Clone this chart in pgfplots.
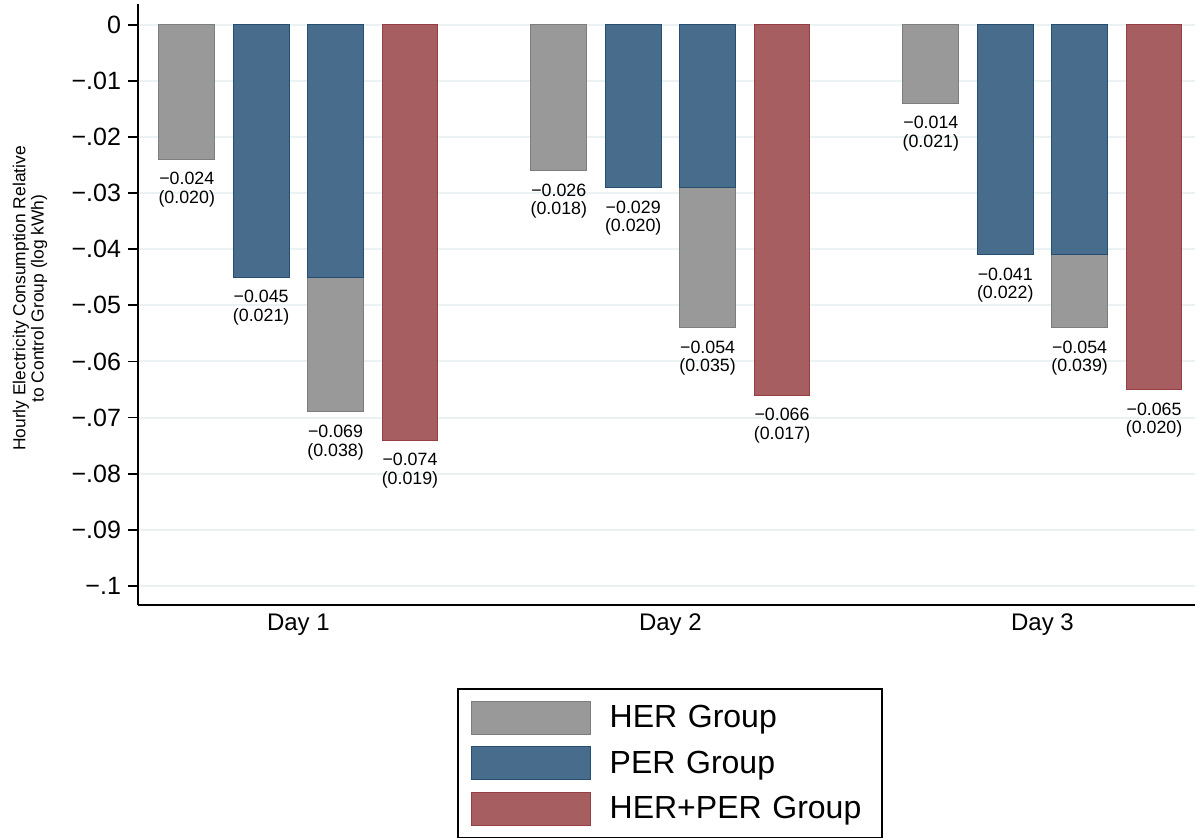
\documentclass[border=0pt]{standalone}
\usepackage{pgfplots}
\pgfplotsset{compat=1.18}
\usepackage{fontspec}
\setmainfont{Liberation Sans}

\definecolor{herfill}{RGB}{153,153,153}
\definecolor{herline}{RGB}{125,125,125}
\definecolor{perfill}{RGB}{72,108,140}
\definecolor{perline}{RGB}{38,78,112}
\definecolor{bothfill}{RGB}{166,94,97}
\definecolor{bothline}{RGB}{150,62,68}
\definecolor{gridc}{RGB}{234,242,243}

\pgfplotsset{
  mybar/.style={
    ybar, bar width=0.15, bar shift=0pt, line width=0.5pt,
    legend image code/.code={\draw[##1, line width=0.5pt] (0pt,-8.25pt) rectangle (59.5pt,8.25pt);}
  },
  lbl/.style={
    nodes near coords, point meta=explicit symbolic,
    nodes near coords align={below},
    every node near coord/.append style={align=center, text=black,
      font=\fontsize{8.9}{9.3}\selectfont, inner sep=2pt, yshift=-4.3pt}
  },
}

\begin{document}
\begin{tikzpicture}
\useasboundingbox (-69pt,-116.5pt) rectangle (528.5pt,302.5pt);
\begin{axis}[
  scale only axis,
  width=528.5pt, height=300.5pt,
  xmin=0.569, xmax=3.410,
  ymin=-0.1034, ymax=0.0037,
  clip=false,
  axis x line*=bottom, axis y line*=left,
  axis line style={line width=0.9pt, black, -},
  tick align=outside,
  major tick length=5pt,
  ytick={-0.1,-0.09,-0.08,-0.07,-0.06,-0.05,-0.04,-0.03,-0.02,-0.01,0},
  yticklabels={−.1,−.09,−.08,−.07,−.06,−.05,−.04,−.03,−.02,−.01,0},
  ytick style={line width=0.9pt, black},
  yticklabel style={font=\fontsize{12.5}{14}\selectfont},
  xtick={1,2,3},
  xticklabels={Day 1,Day 2,Day 3},
  xtick style={draw=none},
  xticklabel style={font=\fontsize{12}{14}\selectfont, yshift=4.2pt},
  ymajorgrids,
  grid style={gridc, line width=1pt},
  ylabel={Hourly Electricity Consumption Relative\\to Control Group (log kWh)},
  every axis y label/.style={at={(axis description cs:-0.1022,0.51)}, rotate=90,
    anchor=center, align=center, font=\fontsize{8.7}{9.2}\selectfont},
  legend style={at={(0.503,-0.138)}, anchor=north, draw=black, line width=0.9pt,
    font=\fontsize{16}{19}\selectfont, inner xsep=6.5pt, inner ysep=6pt,
    row sep=5.75pt, cells={anchor=west},
    nodes={inner sep=0pt, text width=129.5pt, align=left},
    /tikz/every odd column/.append style={column sep=9.5pt}},
]
% HER group alone
\addplot[mybar, lbl, fill=herfill, draw=herline] coordinates {
  (0.7,-0.024) [{−0.024\\(0.020)}]
  (1.7,-0.026) [{−0.026\\(0.018)}]
  (2.7,-0.014) [{−0.014\\(0.021)}]
};
\addlegendentry{HER Group}
% PER group alone
\addplot[mybar, lbl, fill=perfill, draw=perline] coordinates {
  (0.9,-0.045) [{−0.045\\(0.021)}]
  (1.9,-0.029) [{−0.029\\(0.020)}]
  (2.9,-0.041) [{−0.041\\(0.022)}]
};
\addlegendentry{PER Group}
% sum of the two effects: total in grey, PER part laid over it
\addplot[mybar, lbl, fill=herfill, draw=herline, forget plot] coordinates {
  (1.1,-0.069) [{−0.069\\(0.038)}]
  (2.1,-0.054) [{−0.054\\(0.035)}]
  (3.1,-0.054) [{−0.054\\(0.039)}]
};
\addplot[mybar, fill=perfill, draw=perline, forget plot] coordinates {
  (1.1,-0.045) (2.1,-0.029) (3.1,-0.041)
};
% combined treatment
\addplot[mybar, lbl, fill=bothfill, draw=bothline] coordinates {
  (1.3,-0.074) [{−0.074\\(0.019)}]
  (2.3,-0.066) [{−0.066\\(0.017)}]
  (3.3,-0.065) [{−0.065\\(0.020)}]
};
\addlegendentry{HER+PER Group}
\end{axis}
\end{tikzpicture}
\end{document}
